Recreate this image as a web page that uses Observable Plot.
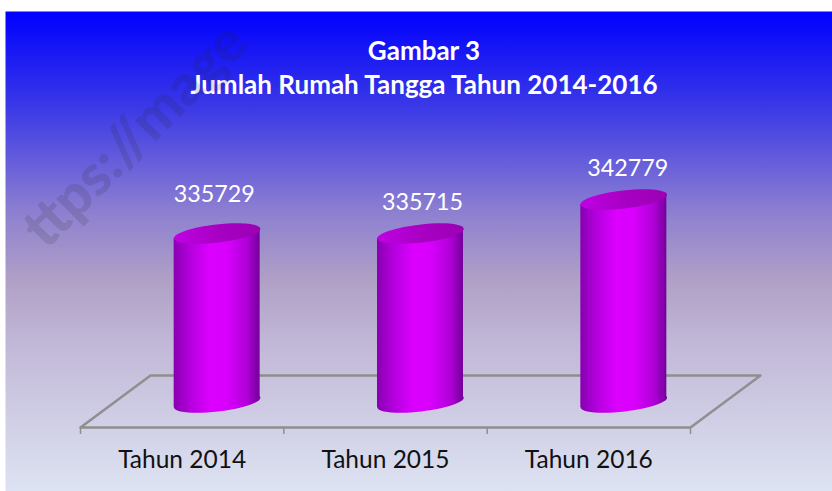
<!DOCTYPE html>
<html><head><meta charset="utf-8">
<script src="https://cdn.jsdelivr.net/npm/d3@7"></script>
<script src="https://cdn.jsdelivr.net/npm/@observablehq/plot@0.6"></script>
<style>html,body{margin:0;padding:0;background:#fff}svg{display:block}</style>
</head><body><div id="chart"></div>
<script>
const categories = ["Tahun 2014", "Tahun 2015", "Tahun 2016"];
const households = [335729, 335715, 342779];
const titleText = "Gambar 3\nJumlah Rumah Tangga Tahun 2014-2016";
const watermark = "ttps://mage";
const labelLift = [15, 7, 7];
const labelShift = [-3, 2, 4];

const yBase = 300686, yTop = 342779;
const unitsPerPx = (yTop - yBase) / 203;
const xPerPx = 3 / 610;
const depthX = 0.5 + 35 * xPerPx;          // cylinder centre, in category units
const halfW = 43 * xPerPx;
const tilt = 5 * unitsPerPx;
const floorFront = yBase - 25 * unitsPerPx, floorBack = yBase + 27 * unitsPerPx;
const floorShift = 70 * xPerPx;
const tickEnd = floorFront - 7 * unitsPerPx;
const labelY = yBase - 58 * unitsPerPx;

const rows = households.map((v, i) => ({i, v, c: categories[i]}));
const body = rows.flatMap(d => [
  {i: d.i, x: d.i + depthX - halfW, y1: yBase + (-tilt), y2: d.v - tilt},
  {i: d.i, x: d.i + depthX + halfW, y1: yBase + tilt, y2: d.v + tilt}
]);
const floor = [
  {x: 0, y: floorFront}, {x: floorShift, y: floorBack},
  {x: 3 + floorShift, y: floorBack}, {x: 3, y: floorFront}, {x: 0, y: floorFront}
];

const ellipse = (a, b) => ({draw(p) {
  const k = 0.5523;
  p.moveTo(-a, 0);
  p.bezierCurveTo(-a, -b * k, -a * k, -b, 0, -b);
  p.bezierCurveTo(a * k, -b, a, -b * k, a, 0);
  p.bezierCurveTo(a, b * k, a * k, b, 0, b);
  p.bezierCurveTo(-a * k, b, -a, b * k, -a, 0);
  p.closePath();
}});

function linear(id, dir, stops) {
  return `<linearGradient id="${id}" x1="0" y1="0" x2="${dir ? 0 : 1}" y2="${dir ? 1 : 0}">` +
    stops.map(([o, c]) => `<stop offset="${o}" stop-color="${c}"/>`).join("") + `</linearGradient>`;
}
const defs = () => {
  const g = document.createElementNS("http://www.w3.org/2000/svg", "g");
  g.innerHTML = "<defs>" +
    linear("bg", 1, [[0, "#0000ff"], [0.2, "#3b39e6"], [0.42, "#8e80d0"], [0.56, "#b0a0c6"], [0.7, "#c2b9d8"], [1, "#dde3f2"]]) +
    linear("cyl", 0, [[0, "#8800b0"], [0.18, "#b200dc"], [0.42, "#dc00ff"], [0.62, "#d800fc"], [0.85, "#b000d8"], [1, "#74009a"]]) +
    linear("cap", 0, [[0, "#c000e4"], [0.5, "#a800c4"], [1, "#9c00b4"]]) +
    "</defs>";
  return g;
};

const chart = Plot.plot({
  width: 832, height: 491,
  marginLeft: 5, marginTop: 11, marginRight: 0, marginBottom: 0,
  style: {background: "#fff", fontFamily: "Lato"},
  x: {domain: [0, 3], range: [80, 690], axis: null},
  y: {domain: [yBase, yTop], range: [402, 199], axis: null},
  marks: [
    defs,
    Plot.frame({fill: "url(#bg)", stroke: "none"}),
    Plot.line(floor, {x: "x", y: "y", stroke: "#8f8f8f", strokeWidth: 2.5}),
    Plot.ruleX([0, 1, 2, 3], {y1: floorFront, y2: tickEnd, stroke: "#8f8f8f", strokeWidth: 1.5}),
    Plot.dot(rows, {x: d => d.i + depthX, y: yBase, r: 1, symbol: ellipse(43.5, 9), rotate: -6.5, fill: "url(#cyl)", stroke: "none"}),
    Plot.areaY(body, {x: "x", y1: "y1", y2: "y2", z: "i", fill: "url(#cyl)", stroke: "none"}),
    Plot.dot(rows, {x: d => d.i + depthX, y: "v", r: 1, symbol: ellipse(43.5, 9), rotate: -6.5, fill: "url(#cap)", stroke: "none"}),
    ...rows.map((d, i) => Plot.text([d], {x: d => d.i + depthX, y: "v", text: d => String(d.v), dx: labelShift[i], dy: -(24 + labelLift[i]), fontSize: 23.3, fill: "#fff"})),
    Plot.text(rows, {x: d => d.i + 0.5, y: labelY, text: "c", fontSize: 24.5, fill: "#111"}),
    Plot.text([titleText], {frameAnchor: "top", dx: 5, dy: 24, text: d => d, fontSize: 26, fontWeight: 700, fill: "#fff", lineHeight: 1.31}),
    Plot.text([watermark], {frameAnchor: "top-left", dx: 130, dy: 124, text: d => d, textAnchor: "middle", lineAnchor: "middle", rotate: -45, fontSize: 57, fontWeight: 900, fill: "#222", fillOpacity: 0.14})
  ]
});
document.getElementById("chart").append(chart);
</script></body></html>
